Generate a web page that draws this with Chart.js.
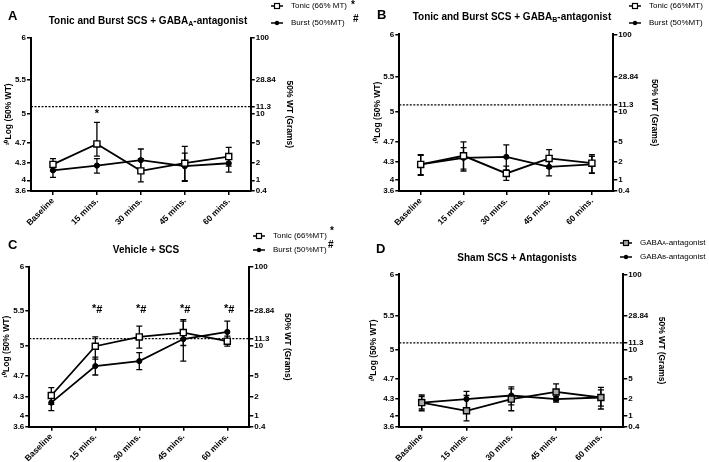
<!DOCTYPE html>
<html>
<head>
<meta charset="utf-8">
<script src="https://cdn.jsdelivr.net/npm/chart.js@4/dist/chart.umd.min.js"></script>
<style>
  html, body { margin: 0; padding: 0; background: #fff; }
  #page { position: relative; width: 709px; height: 462px; overflow: hidden; font-family: "Liberation Sans", Arial, sans-serif; color: #000; }
  canvas { position: absolute; left: 0; top: 0; }
  .txt { position: absolute; white-space: nowrap; z-index: 2; }
  .letter { font-weight: bold; font-size: 13px; line-height: 14px; }
  .title { font-weight: bold; font-size: 10px; line-height: 12px; transform: translateX(-50%); }
  .leg { font-size: 8px; line-height: 10px; display: flex; align-items: center; }
  .leg svg { margin-right: 8px; }
  .sig { font-weight: bold; font-size: 10px; line-height: 10px; }
  sub { font-size: 70%; vertical-align: -2px; line-height: 0; }
</style>
</head>
<body>
<div id="page">
  <canvas id="cA" width="709" height="462"></canvas>
  <canvas id="cB" width="709" height="462"></canvas>
  <canvas id="cC" width="709" height="462"></canvas>
  <canvas id="cD" width="709" height="462"></canvas>

  <div class="txt letter" style="left:8px;top:9px">A</div>
  <div class="txt letter" style="left:377px;top:8px">B</div>
  <div class="txt letter" style="left:8px;top:238px">C</div>
  <div class="txt letter" style="left:376px;top:242px">D</div>

  <div class="txt title" style="left:148px;top:15px">Tonic and Burst SCS + GABA<sub>A</sub>-antagonist</div>
  <div class="txt title" style="left:512px;top:11px">Tonic and Burst SCS + GABA<sub>B</sub>-antagonist</div>
  <div class="txt title" style="left:146px;top:244px">Vehicle + SCS</div>
  <div class="txt title" style="left:517px;top:252px">Sham SCS + Antagonists</div>

  <!-- legends -->
  <div class="txt leg" style="left:271px;top:1px"><svg width="12" height="8"><line x1="0" y1="4" x2="12" y2="4" stroke="#000" stroke-width="1.5"/><rect x="3.5" y="1.5" width="5" height="5" fill="#fff" stroke="#000" stroke-width="1.2"/></svg>Tonic (66% MT)</div>
  <div class="txt leg" style="left:271px;top:18px"><svg width="12" height="8"><line x1="0" y1="4" x2="12" y2="4" stroke="#000" stroke-width="1.5"/><circle cx="6" cy="4" r="2.2" fill="#000"/></svg>Burst (50%MT)</div>
  <div class="txt sig" style="left:351px;top:0px">*</div>
  <div class="txt sig" style="left:353px;top:14px">#</div>

  <div class="txt leg" style="left:629px;top:1px"><svg width="12" height="8"><line x1="0" y1="4" x2="12" y2="4" stroke="#000" stroke-width="1.5"/><rect x="3.5" y="1.5" width="5" height="5" fill="#fff" stroke="#000" stroke-width="1.2"/></svg>Tonic (66%MT)</div>
  <div class="txt leg" style="left:629px;top:18px"><svg width="12" height="8"><line x1="0" y1="4" x2="12" y2="4" stroke="#000" stroke-width="1.5"/><circle cx="6" cy="4" r="2.2" fill="#000"/></svg>Burst (50%MT)</div>

  <div class="txt leg" style="left:253px;top:231px"><svg width="12" height="8"><line x1="0" y1="4" x2="12" y2="4" stroke="#000" stroke-width="1.5"/><rect x="3.5" y="1.5" width="5" height="5" fill="#fff" stroke="#000" stroke-width="1.2"/></svg>Tonic (66%MT)</div>
  <div class="txt leg" style="left:253px;top:245px"><svg width="12" height="8"><line x1="0" y1="4" x2="12" y2="4" stroke="#000" stroke-width="1.5"/><circle cx="6" cy="4" r="2.2" fill="#000"/></svg>Burst (50%MT)</div>
  <div class="txt sig" style="left:330px;top:226px">*</div>
  <div class="txt sig" style="left:328px;top:240px">#</div>

  <div class="txt leg" style="left:620px;top:238px"><svg width="12" height="8"><line x1="0" y1="4" x2="12" y2="4" stroke="#000" stroke-width="1.5"/><rect x="3.5" y="1.5" width="5" height="5" fill="#aaa" stroke="#000" stroke-width="1.2"/></svg>GABA<sub>A</sub>-antagonist</div>
  <div class="txt leg" style="left:620px;top:252px"><svg width="12" height="8"><line x1="0" y1="4" x2="12" y2="4" stroke="#000" stroke-width="1.5"/><circle cx="6" cy="4" r="2.2" fill="#000"/></svg>GABA<sub>B</sub>-antagonist</div>
</div>

<script>
// --- Data ---
const categories = ['Baseline', '15 mins.', '30 mins.', '45 mins.', '60 mins.'];

// left axis: log10(50% WT), right axis: grams; the axis is drawn in segments
const leftTicks = [3.6, 4, 4.3, 4.7, 5, 5.5, 6];
const leftBreaks = [0, 0.07, 0.185, 0.317, 0.503, 0.727, 1];
const rightTicks = [0.4, 1, 2, 5, 10, 11.3, 28.84, 100];
const rightBreaks = [0, 0.07, 0.185, 0.317, 0.503, 0.55, 0.727, 1];
const refGrams = 11.3;

const tonicA = [4.27, 4.67, 4.16, 4.29, 4.42];
const tonicAErr = [0.11, 0.24, 0.22, 0.33, 0.18];
const burstA = [4.17, 4.25, 4.35, 4.24, 4.29];
const burstAErr = [0.12, 0.13, 0.22, 0.25, 0.15];

const tonicB = [4.26, 4.42, 4.11, 4.37, 4.28];
const tonicBErr = [0.18, 0.27, 0.12, 0.17, 0.16];
const burstB = [4.26, 4.38, 4.40, 4.22, 4.26];
const burstBErr = [0.17, 0.20, 0.23, 0.15, 0.15];

const tonicC = [4.33, 5.00, 5.13, 5.19, 5.07];
const tonicCErr = [0.15, 0.13, 0.15, 0.18, 0.07];
const burstC = [4.21, 4.80, 4.85, 5.10, 5.20];
const burstCErr = [0.13, 0.09, 0.085, 0.25, 0.15];

const gabaAD = [4.23, 4.09, 4.29, 4.43, 4.32];
const gabaADErr = [0.14, 0.27, 0.20, 0.16, 0.20];
const gabaBD = [4.23, 4.29, 4.36, 4.29, 4.32];
const gabaBDErr = [0.11, 0.15, 0.17, 0.05, 0.15];

const sigA = ['', '*', '', '', ''];
const sigC = ['', '*#', '*#', '*#', '*#'];

// --- Segmented scale ---
const axisBreaks = {
  y: { values: leftTicks, pos: leftBreaks },
  y1: { values: rightTicks, pos: rightBreaks }
};

function toDecimal(v, b) {
  const vs = b.values, ps = b.pos;
  let i = 1;
  while (i < vs.length - 1 && v > vs[i]) i++;
  return ps[i - 1] + (v - vs[i - 1]) / (vs[i] - vs[i - 1]) * (ps[i] - ps[i - 1]);
}

class SegmentScale extends Chart.LinearScale {
  buildTicks() {
    return axisBreaks[this.id].values.map(v => ({ value: v }));
  }
  getPixelForValue(value) {
    return this.getPixelForDecimal(toDecimal(value, axisBreaks[this.id]));
  }
}
SegmentScale.id = 'segment';
SegmentScale.defaults = {};
Chart.register(SegmentScale);

Chart.defaults.font.family = '"Liberation Sans", Arial, sans-serif';
Chart.defaults.color = '#000';

// --- Panels ---
const W = 709, H = 462, X_HEIGHT = 40, TITLE_OFF = 5.1;

function extras(marks, level) {
  return {
    id: 'extras',
    beforeDatasetsDraw(chart) {
      const { ctx, chartArea, scales } = chart;
      const yRef = scales.y1.getPixelForValue(refGrams);
      ctx.save();
      ctx.strokeStyle = '#000';
      ctx.lineWidth = 1.3;
      ctx.setLineDash([2, 1.5]);
      ctx.beginPath();
      ctx.moveTo(chartArea.left, yRef);
      ctx.lineTo(chartArea.right, yRef);
      ctx.stroke();
      ctx.setLineDash([]);
      chart.data.datasets.forEach(ds => {
        ds.errors.forEach((e, i) => {
          const x = scales.x.getPixelForValue(i);
          const top = scales.y.getPixelForValue(ds.data[i] + e);
          const bot = scales.y.getPixelForValue(ds.data[i] - e);
          ctx.beginPath();
          ctx.moveTo(x, top); ctx.lineTo(x, bot);
          ctx.moveTo(x - 3, top); ctx.lineTo(x + 3, top);
          ctx.moveTo(x - 3, bot); ctx.lineTo(x + 3, bot);
          ctx.stroke();
        });
      });
      ctx.restore();
    },
    afterDatasetsDraw(chart) {
      if (!marks) return;
      const { ctx, scales } = chart;
      ctx.save();
      ctx.fillStyle = '#000';
      ctx.font = 'bold 11px "Liberation Sans", Arial, sans-serif';
      ctx.textBaseline = 'middle';
      marks.forEach((m, i) => {
        if (!m) return;
        const x = scales.x.getPixelForValue(i);
        const y = scales.y.getPixelForValue(level);
        if (m === '*') {
          ctx.textAlign = 'center';
          ctx.fillText('*', x, y + 2);
        } else {
          ctx.textAlign = 'right';
          ctx.fillText('*', x + 1, y - 1);
          ctx.textAlign = 'left';
          ctx.fillText('#', x + 1, y);
        }
      });
      ctx.restore();
    }
  };
}

function makePanel(id, plot, leftTitleX, rightTitleX, sets, marks, level) {
  const [pl, pt, pr, pb] = plot;
  const padLeft = leftTitleX - TITLE_OFF;
  const boxRight = rightTitleX + TITLE_OFF;
  const axisFont = { size: 8, weight: 'bold' };
  const titleFont = { size: 8.5, weight: 'bold', lineHeight: 1.2 };
  const gridOpts = { drawOnChartArea: false, drawTicks: true, tickLength: 4, color: '#000', lineWidth: 1.5 };

  new Chart(document.getElementById(id), {
    type: 'line',
    data: {
      labels: categories,
      datasets: sets.map(s => ({
        label: s.label,
        data: s.data,
        errors: s.err,
        yAxisID: 'y',
        borderColor: '#000',
        borderWidth: 1.8,
        tension: 0,
        pointStyle: s.square ? 'rect' : 'circle',
        pointRadius: s.square ? 4.3 : 2.6,
        pointBorderWidth: s.square ? 1.4 : 1,
        pointBackgroundColor: s.fill,
        pointBorderColor: '#000'
      }))
    },
    options: {
      responsive: false,
      animation: false,
      events: [],
      layout: {
        padding: { left: padLeft, right: W - boxRight, top: pt, bottom: H - pb - X_HEIGHT }
      },
      plugins: { legend: { display: false }, tooltip: { enabled: false } },
      scales: {
        x: {
          type: 'category',
          offset: true,
          grid: { ...gridOpts, offset: false },
          border: { display: true, color: '#000', width: 2 },
          ticks: { autoSkip: false, minRotation: 45, maxRotation: 45, padding: 1, font: { size: 8.5, weight: 'bold' } },
          afterFit: s => { s.height = X_HEIGHT; }
        },
        y: {
          type: 'segment',
          position: 'left',
          min: 3.6, max: 6,
          grid: gridOpts,
          border: { display: true, color: '#000', width: 2 },
          ticks: { autoSkip: false, padding: 1, font: axisFont, callback: v => String(v) },
          title: { display: true, text: '\u00B9\u2070Log (50% WT)', font: titleFont, padding: 0 },
          afterFit: s => { s.width = pl - padLeft; }
        },
        y1: {
          type: 'segment',
          position: 'right',
          min: 0.4, max: 100,
          grid: gridOpts,
          border: { display: true, color: '#000', width: 2 },
          ticks: { autoSkip: false, padding: 1, font: axisFont, callback: v => String(v) },
          title: { display: true, text: '50% WT (Grams)', font: titleFont, padding: 0 },
          afterFit: s => { s.width = boxRight - pr; }
        }
      }
    },
    plugins: [extras(marks, level)]
  });
}

makePanel('cA', [31, 37.7, 250.7, 191], 8.5, 289.3, [
  { label: 'Tonic (66% MT)', data: tonicA, err: tonicAErr, square: true, fill: '#fff' },
  { label: 'Burst (50%MT)', data: burstA, err: burstAErr, square: false, fill: '#000' }
], sigA, 5.03);

makePanel('cB', [399.3, 34.3, 613.3, 191], 378, 654, [
  { label: 'Tonic (66%MT)', data: tonicB, err: tonicBErr, square: true, fill: '#fff' },
  { label: 'Burst (50%MT)', data: burstB, err: burstBErr, square: false, fill: '#000' }
], null, 0);

makePanel('cC', [29.3, 266.7, 249.3, 426.7], 6.5, 287.5, [
  { label: 'Tonic (66%MT)', data: tonicC, err: tonicCErr, square: true, fill: '#fff' },
  { label: 'Burst (50%MT)', data: burstC, err: burstCErr, square: false, fill: '#000' }
], sigC, 5.5);

makePanel('cD', [399.3, 274.3, 623.3, 426.7], 374, 661, [
  { label: 'GABA-A-antagonist', data: gabaAD, err: gabaADErr, square: true, fill: '#aaa' },
  { label: 'GABA-B-antagonist', data: gabaBD, err: gabaBDErr, square: false, fill: '#000' }
], null, 0);
</script>
</body>
</html>
